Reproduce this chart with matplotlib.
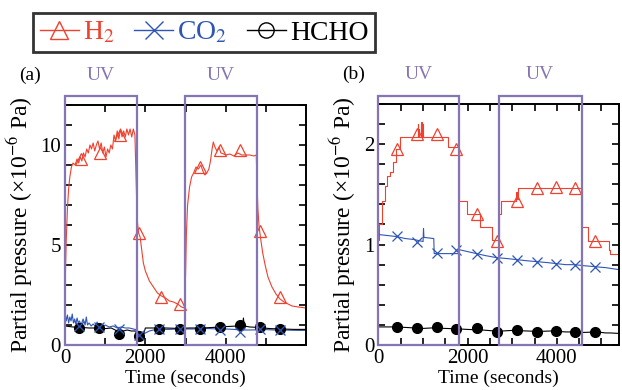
import numpy as np
import matplotlib.pyplot as plt
from matplotlib.lines import Line2D
from matplotlib.patches import Rectangle
from matplotlib.ticker import MultipleLocator

plt.rcParams['font.family'] = ['Liberation Serif', 'DejaVu Serif']
plt.rcParams['mathtext.fontset'] = 'stix'

RED = '#f0402e'
BLUE = '#2f56b4'
PURPLE = '#8675b5'

# ---- panel (a) ----
a_h2_t = [0, 30, 60, 90, 120, 160, 200, 250, 300, 340, 380, 420, 460, 500, 540, 580,
          620, 660, 700, 740, 780, 820, 860, 900, 940, 980, 1020, 1060, 1100, 1140,
          1180, 1220, 1260, 1300, 1340, 1380, 1420, 1460, 1500, 1540, 1580, 1620,
          1660, 1700, 1740, 1760, 1780, 1800, 1830, 1870, 1900, 1950, 2000, 2100,
          2200, 2300, 2400, 2500, 2600, 2700, 2800, 2900, 2970, 3000, 3020, 3050,
          3100, 3150, 3200, 3260, 3320, 3380, 3430, 3480, 3530, 3580, 3620, 3660,
          3690, 3730, 3780, 3830, 3880, 3950, 4000, 4100, 4200, 4300, 4400, 4500,
          4600, 4700, 4760, 4780, 4800, 4830, 4870, 4920, 4980, 5050, 5150, 5250,
          5350, 5450, 5550, 5650, 5800, 6000]
a_h2_y = [2.7, 5.2, 6.8, 7.8, 8.4, 8.9, 9.1, 9.0, 9.3, 9.1, 9.4, 9.2, 9.6, 9.4, 9.8, 9.6,
          10.0, 9.8, 10.1, 9.7, 10.0, 10.2, 9.8, 10.1, 9.6, 9.9, 9.4, 9.8, 9.6, 10.0,
          9.8, 10.5, 10.2, 10.7, 10.3, 10.8, 10.4, 10.7, 10.4, 10.8, 10.5, 10.8,
          10.4, 10.8, 10.5, 9.0, 7.5, 6.2, 5.6, 5.4, 4.9, 4.1, 3.7, 3.2,
          2.9, 2.6, 2.45, 2.35, 2.2, 2.15, 2.05, 1.9, 1.85, 3.5, 5.5, 7.0,
          7.9, 8.4, 8.6, 8.9, 8.8, 9.0, 8.7, 8.5, 8.6, 8.8, 9.2, 9.8,
          10.15, 9.9, 9.7, 9.9, 9.6, 9.55, 9.5, 9.55, 9.45, 9.6, 9.5, 9.5,
          9.5, 9.45, 9.5, 8.0, 6.8, 5.9, 5.3, 4.6, 4.0, 3.4, 2.9, 2.55,
          2.3, 2.15, 2.05, 1.95, 1.9, 1.85]
a_co2_t = [0, 30, 60, 90, 120, 150, 180, 210, 240, 270, 300, 330, 360, 400, 450, 500,
           530, 560, 600, 650, 700, 750, 800, 850, 900, 950, 1000, 1100, 1200, 1300,
           1400, 1500, 1600, 1700, 1800, 1850, 1900, 2000, 2100, 2200, 2400, 2600,
           2800, 3000, 3200, 3400, 3600, 3800, 4000, 4200, 4400, 4600, 4800, 5000,
           5200, 5400, 5600, 5800, 6000]
a_co2_y = [1.6, 1.2, 1.5, 1.1, 1.4, 1.2, 1.55, 1.1, 1.3, 1.05, 1.35, 1.1, 1.2, 1.0, 1.3, 1.0,
           1.4, 1.0, 1.1, 0.95, 1.05, 0.95, 1.15, 0.9, 1.0, 0.9, 1.0, 0.9, 0.95, 0.85,
           0.9, 0.85, 0.85, 0.8, 0.75, 0.55, 0.5, 0.6, 0.7, 0.75, 0.78, 0.78,
           0.8, 0.8, 0.8, 0.82, 0.82, 0.8, 0.8, 0.78, 0.75, 0.75, 0.76, 0.77,
           0.75, 0.75, 0.74, 0.73, 0.73]
a_hcho_t = [0, 200, 400, 600, 800, 1000, 1150, 1250, 1350, 1450, 1550, 1650, 1750, 1800,
            1850, 1950, 2000, 2200, 2500, 2800, 3100, 3400, 3700, 4000, 4300, 4420,
            4440, 4460, 4600, 4800, 5100, 5400, 5700, 6000]
a_hcho_y = [0.95, 0.9, 0.88, 0.85, 0.85, 0.82, 0.85, 0.75, 0.55, 0.7, 0.75, 0.7, 0.7, 0.55,
            0.45, 0.5, 0.85, 0.85, 0.85, 0.83, 0.85, 0.85, 0.88, 0.92, 0.95, 0.95,
            1.35, 0.95, 0.9, 0.88, 0.82, 0.8, 0.78, 0.78]
a_mark_t = [390, 880, 1370, 1850, 2390, 2850, 3350, 3850, 4350, 4850, 5350]
a_h2_mark = [9.3, 9.6, 10.5, 5.6, 2.4, 2.05, 8.9, 9.75, 9.75, 5.7, 2.4]
a_dot_t = [350, 850, 1350, 1850, 2350, 2850, 3350, 3850, 4350, 4850, 5350]
a_co2_mark = [0.95, 0.9, 0.8, 0.5, 0.78, 0.78, 0.8, 0.75, 0.65, 0.8, 0.75]
a_hcho_mark = [0.87, 0.87, 0.53, 0.47, 0.78, 0.78, 0.82, 0.92, 0.98, 0.88, 0.78]
a_uv = [(0, 1780), (2980, 4790)]

# ---- panel (b) ----
b_h2_t = [0, 20, 70, 150, 190, 260, 330, 400, 480, 880, 890, 900, 910, 960, 970, 980,
          990, 1570, 1815, 1980, 2280, 2545, 2700, 2740, 3080, 3110, 3140, 4565, 4710,
          5180, 5200, 5400]
b_h2_y = [1.05, 1.2, 1.43, 1.58, 1.68, 1.72, 1.82, 1.95, 2.07, 2.2, 2.07, 2.15, 2.07, 2.22,
          2.07, 2.2, 2.07, 1.97, 1.43, 1.3, 1.17, 1.05, 1.3, 1.43, 1.52, 1.45, 1.56, 1.17,
          1.04, 0.95, 0.91, 0.91]
b_co2_t = [0, 200, 400, 600, 800, 900, 1000, 1010, 1020, 1050, 1240, 1250, 1500, 1790,
           1800, 2000, 2200, 2400, 2650, 2900, 3100, 3300, 3550, 3800, 4000, 4200, 4400,
           4600, 4850, 5100, 5400]
b_co2_y = [1.1, 1.09, 1.08, 1.06, 1.05, 1.04, 1.03, 1.16, 1.07, 1.07, 1.06, 0.91, 0.91, 0.91,
           0.95, 0.93, 0.91, 0.89, 0.87, 0.86, 0.85, 0.84, 0.83, 0.82, 0.81, 0.8, 0.8,
           0.79, 0.78, 0.77, 0.75]
b_hcho_t = [0, 300, 600, 800, 1000, 1200, 1500, 1800, 2000, 2300, 2600, 2650, 2800, 3000,
            3300, 3600, 3900, 4200, 4500, 4600, 4900, 5100, 5200, 5400]
b_hcho_y = [0.18, 0.18, 0.175, 0.17, 0.165, 0.17, 0.165, 0.16, 0.155, 0.15, 0.14, 0.13,
            0.14, 0.145, 0.14, 0.135, 0.14, 0.13, 0.13, 0.125, 0.13, 0.12, 0.12, 0.115]
b_mark_t = [423, 858, 1307, 1741, 2206, 2655, 3105, 3555, 3990, 4417, 4866]
b_h2_mark = [1.95, 2.10, 2.10, 1.95, 1.30, 1.04, 1.43, 1.56, 1.57, 1.56, 1.04]
b_co2_mark = [1.085, 1.03, 0.92, 0.946, 0.91, 0.87, 0.85, 0.83, 0.81, 0.80, 0.78]
b_hcho_mark = [0.18, 0.165, 0.18, 0.155, 0.165, 0.13, 0.148, 0.13, 0.14, 0.13, 0.125]
b_uv = [(0, 1815), (2700, 4555)]


fig = plt.figure(figsize=(6.22, 3.90), dpi=100)
ax_a = fig.add_axes([0.1045, 0.1154, 0.387, 0.6154])
ax_b = fig.add_axes([0.6085, 0.1154, 0.387, 0.6180])


def style_axes(ax, xmax, ymax, xmaj, xmin, ymaj, ymin):
    ax.set_xlim(0, xmax)
    ax.set_ylim(0, ymax)
    ax.xaxis.set_major_locator(MultipleLocator(xmaj))
    ax.xaxis.set_minor_locator(MultipleLocator(xmin))
    ax.yaxis.set_major_locator(MultipleLocator(ymaj))
    ax.yaxis.set_minor_locator(MultipleLocator(ymin))
    ax.tick_params(which='both', direction='in', top=True, right=True,
                   length=5, width=1.2, labelsize=15, pad=3)
    for s in ax.spines.values():
        s.set_linewidth(1.4)
    ax.set_xlabel('Time (seconds)', fontsize=14, labelpad=1)
    ax.set_ylabel('Partial pressure (\u00d710$^{-6}$ Pa)', fontsize=17, labelpad=4)


def uv_boxes(ax, spans, ytop):
    for x0, x1 in spans:
        ax.add_patch(Rectangle((x0, 0), x1 - x0, ytop, fill=False, edgecolor=PURPLE,
                               linewidth=1.6, clip_on=False, zorder=10))
        ax.annotate('UV', xy=((x0 + x1) / 2, 1), xycoords=('data', 'axes fraction'),
                    xytext=(0, 21), textcoords='offset points', ha='center',
                    va='center', fontsize=14, color=PURPLE, annotation_clip=False)


# (a)
ax_a.plot(a_h2_t, a_h2_y, color=RED, lw=0.8)
ax_a.plot(a_co2_t, a_co2_y, color=BLUE, lw=0.8)
ax_a.plot(a_hcho_t, a_hcho_y, color='k', lw=0.8)
ax_a.plot(a_mark_t, a_h2_mark, ls='none', marker='^', ms=9, mfc='none', mec=RED, mew=0.9)
ax_a.plot(a_dot_t, a_hcho_mark, ls='none', marker='o', ms=7, color='k')
ax_a.plot(a_dot_t, a_co2_mark, ls='none', marker='x', ms=7, color=BLUE, mew=0.9)
style_axes(ax_a, 5990, 12, 2000, 1000, 5, 1)
uv_boxes(ax_a, a_uv, 12.45)
ax_a.text(-0.19, 1.125, '(a)', transform=ax_a.transAxes, fontsize=14, va='center')

# (b)
ax_b.plot(b_h2_t, b_h2_y, color=RED, lw=0.8, drawstyle='steps-post')
ax_b.plot(b_co2_t, b_co2_y, color=BLUE, lw=0.8)
ax_b.plot(b_hcho_t, b_hcho_y, color='k', lw=0.8)
ax_b.plot(b_mark_t, b_h2_mark, ls='none', marker='^', ms=9, mfc='none', mec=RED, mew=0.9)
ax_b.plot(b_mark_t, b_co2_mark, ls='none', marker='x', ms=7, color=BLUE, mew=0.9)
ax_b.plot(b_mark_t, b_hcho_mark, ls='none', marker='o', ms=7, color='k')
style_axes(ax_b, 5400, 2.4, 2000, 500, 1, 0.2)
uv_boxes(ax_b, b_uv, 2.475)
ax_b.text(-0.15, 1.125, '(b)', transform=ax_b.transAxes, fontsize=14, va='center')

handles = [
    Line2D([], [], color=RED, lw=1, marker='^', ms=13, mfc='none', mec=RED, mew=1),
    Line2D([], [], color=BLUE, lw=1, marker='x', ms=13, mew=1),
    Line2D([], [], color='k', lw=1, marker='o', ms=11, mfc='none', mec='k', mew=1),
]
labels = ['H$_2$', 'CO$_2$', 'HCHO']
leg = fig.legend(handles, labels, loc='upper left', bbox_to_anchor=(33 / 622, 1 - 13 / 390),
                 ncol=3, fontsize=20, frameon=True, fancybox=False, borderaxespad=0,
                 handlelength=1.4, handletextpad=0.15, columnspacing=0.7, borderpad=0.25)
leg.get_frame().set_edgecolor('k')
leg.get_frame().set_linewidth(2)
for txt, c in zip(leg.get_texts(), [RED, BLUE, 'k']):
    txt.set_color(c)

fig.savefig('out.png', dpi=100)
plt.close()
